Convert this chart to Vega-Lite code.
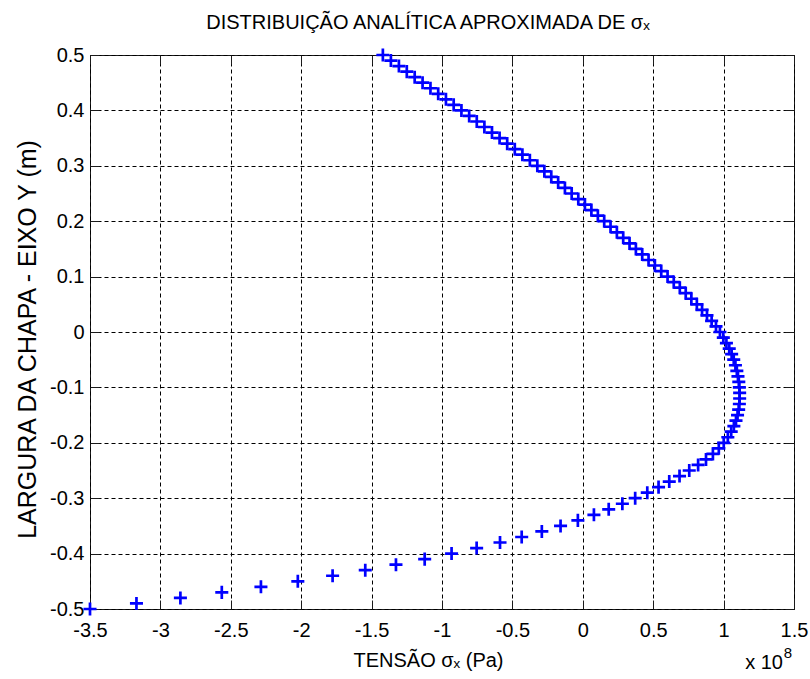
{
  "$schema": "https://vega.github.io/schema/vega-lite/v6.json",
  "width": 704,
  "height": 554,
  "autosize": "none",
  "padding": {"left": 90, "top": 55, "right": 16, "bottom": 70},
  "background": "white",
  "title": {
    "text": "DISTRIBUIÇÃO ANALÍTICA APROXIMADA DE σₓ",
    "font": "Liberation Sans",
    "fontSize": 20,
    "fontWeight": "normal",
    "color": "#000",
    "offset": 10,
    "dx": -14
  },
  "config": {
    "font": "Liberation Sans",
    "view": {"stroke": "#1a1a1a", "strokeWidth": 1},
    "axis": {
      "labelFont": "Liberation Sans",
      "labelFontSize": 20,
      "labelColor": "#000",
      "titleFont": "Liberation Sans",
      "titleFontSize": 20,
      "titleFontWeight": "normal",
      "titleColor": "#000",
      "grid": true,
      "gridColor": "#000",
      "gridOpacity": 1,
      "gridDash": [4, 3],
      "gridWidth": 1,
      "domain": false,
      "tickColor": "#1a1a1a",
      "tickSize": -9,
      "tickWidth": 1,
      "labelOverlap": false,
      "labelFlush": false
    }
  },
  "data": {
    "values": [
      {"y": 0.50, "sx": -1.420e8}, {"y": 0.49, "sx": -1.363e8}, {"y": 0.48, "sx": -1.306e8},
      {"y": 0.47, "sx": -1.250e8}, {"y": 0.46, "sx": -1.194e8}, {"y": 0.45, "sx": -1.138e8},
      {"y": 0.44, "sx": -1.082e8}, {"y": 0.43, "sx": -1.027e8}, {"y": 0.42, "sx": -0.972e8},
      {"y": 0.41, "sx": -0.917e8}, {"y": 0.40, "sx": -0.862e8}, {"y": 0.39, "sx": -0.807e8},
      {"y": 0.38, "sx": -0.753e8}, {"y": 0.37, "sx": -0.699e8}, {"y": 0.36, "sx": -0.645e8},
      {"y": 0.35, "sx": -0.591e8}, {"y": 0.34, "sx": -0.537e8}, {"y": 0.33, "sx": -0.483e8},
      {"y": 0.32, "sx": -0.429e8}, {"y": 0.31, "sx": -0.376e8}, {"y": 0.30, "sx": -0.323e8},
      {"y": 0.29, "sx": -0.273e8}, {"y": 0.28, "sx": -0.224e8}, {"y": 0.27, "sx": -0.175e8},
      {"y": 0.26, "sx": -0.127e8}, {"y": 0.25, "sx": -0.079e8}, {"y": 0.24, "sx": -0.032e8},
      {"y": 0.23, "sx": 0.015e8}, {"y": 0.22, "sx": 0.061e8}, {"y": 0.21, "sx": 0.107e8},
      {"y": 0.20, "sx": 0.152e8}, {"y": 0.19, "sx": 0.197e8}, {"y": 0.18, "sx": 0.242e8},
      {"y": 0.17, "sx": 0.287e8}, {"y": 0.16, "sx": 0.332e8}, {"y": 0.15, "sx": 0.377e8},
      {"y": 0.14, "sx": 0.422e8}, {"y": 0.13, "sx": 0.467e8}, {"y": 0.12, "sx": 0.512e8},
      {"y": 0.11, "sx": 0.557e8}, {"y": 0.10, "sx": 0.602e8}, {"y": 0.09, "sx": 0.646e8},
      {"y": 0.08, "sx": 0.689e8}, {"y": 0.07, "sx": 0.731e8}, {"y": 0.06, "sx": 0.771e8},
      {"y": 0.05, "sx": 0.810e8}, {"y": 0.04, "sx": 0.847e8}, {"y": 0.03, "sx": 0.882e8},
      {"y": 0.02, "sx": 0.915e8}, {"y": 0.01, "sx": 0.946e8}, {"y": 0.00, "sx": 0.974e8},
      {"y": -0.01, "sx": 0.998e8}, {"y": -0.02, "sx": 1.020e8}, {"y": -0.03, "sx": 1.040e8},
      {"y": -0.04, "sx": 1.057e8}, {"y": -0.05, "sx": 1.072e8}, {"y": -0.06, "sx": 1.084e8},
      {"y": -0.07, "sx": 1.094e8}, {"y": -0.08, "sx": 1.102e8}, {"y": -0.09, "sx": 1.108e8},
      {"y": -0.10, "sx": 1.112e8}, {"y": -0.11, "sx": 1.114e8}, {"y": -0.12, "sx": 1.114e8},
      {"y": -0.13, "sx": 1.112e8}, {"y": -0.14, "sx": 1.107e8}, {"y": -0.15, "sx": 1.099e8},
      {"y": -0.16, "sx": 1.088e8}, {"y": -0.17, "sx": 1.073e8}, {"y": -0.18, "sx": 1.054e8},
      {"y": -0.19, "sx": 1.030e8}, {"y": -0.20, "sx": 1.001e8}, {"y": -0.21, "sx": 0.966e8},
      {"y": -0.22, "sx": 0.924e8}, {"y": -0.23, "sx": 0.875e8}, {"y": -0.24, "sx": 0.819e8},
      {"y": -0.25, "sx": 0.756e8}, {"y": -0.26, "sx": 0.687e8}, {"y": -0.27, "sx": 0.614e8},
      {"y": -0.28, "sx": 0.538e8}, {"y": -0.29, "sx": 0.458e8}, {"y": -0.30, "sx": 0.372e8},
      {"y": -0.31, "sx": 0.281e8}, {"y": -0.32, "sx": 0.184e8}, {"y": -0.33, "sx": 0.079e8},
      {"y": -0.34, "sx": -0.035e8}, {"y": -0.35, "sx": -0.158e8}, {"y": -0.36, "sx": -0.291e8},
      {"y": -0.37, "sx": -0.434e8}, {"y": -0.38, "sx": -0.588e8}, {"y": -0.39, "sx": -0.754e8},
      {"y": -0.40, "sx": -0.932e8}, {"y": -0.41, "sx": -1.123e8}, {"y": -0.42, "sx": -1.327e8},
      {"y": -0.43, "sx": -1.545e8}, {"y": -0.44, "sx": -1.777e8}, {"y": -0.45, "sx": -2.024e8},
      {"y": -0.46, "sx": -2.286e8}, {"y": -0.47, "sx": -2.564e8}, {"y": -0.48, "sx": -2.858e8},
      {"y": -0.49, "sx": -3.170e8}, {"y": -0.50, "sx": -3.500e8}
    ]
  },
  "resolve": {"axis": {"x": "independent", "y": "independent"}},
  "layer": [
    {
      "mark": {
        "type": "point",
        "shape": "M-1,0L1,0M0,-1L0,1",
        "size": 170,
        "filled": false,
        "stroke": "#0000ff",
        "strokeWidth": 2.7,
        "opacity": 1
      },
      "encoding": {
        "x": {
          "field": "sx",
          "type": "quantitative",
          "scale": {"domain": [-3.5e8, 1.5e8], "nice": false, "zero": false},
          "axis": {
            "orient": "bottom",
            "values": [-3.5e8, -3e8, -2.5e8, -2e8, -1.5e8, -1e8, -0.5e8, 0, 0.5e8, 1e8, 1.5e8],
            "labelExpr": "'' + datum.value / 1e8",
            "labelPadding": 20,
            "title": "TENSÃO σₓ (Pa)",
            "titleX": 338,
            "titleY": 57,
            "titleAlign": "center",
            "titleBaseline": "alphabetic"
          }
        },
        "y": {
          "field": "y",
          "type": "quantitative",
          "scale": {"domain": [-0.5, 0.5], "nice": false, "zero": false},
          "axis": {
            "orient": "left",
            "values": [-0.5, -0.4, -0.3, -0.2, -0.1, 0, 0.1, 0.2, 0.3, 0.4, 0.5],
            "labelExpr": "'' + datum.value",
            "labelPadding": 15,
            "title": "LARGURA DA CHAPA - EIXO Y (m)",
            "titleFontSize": 25,
            "titleAngle": -90,
            "titleX": -55,
            "titleY": 284,
            "titleAlign": "center",
            "titleBaseline": "alphabetic"
          }
        }
      }
    },
    {
      "data": {"values": [{"label": "x 10"}]},
      "mark": {
        "type": "text",
        "font": "Liberation Sans",
        "fontSize": 20,
        "color": "#000",
        "align": "right",
        "baseline": "alphabetic",
        "dx": -11,
        "dy": 60
      },
      "encoding": {
        "text": {"field": "label"},
        "x": {
          "datum": 1.5e8,
          "type": "quantitative",
          "axis": {
            "orient": "top",
            "values": [-3.5e8, -3e8, -2.5e8, -2e8, -1.5e8, -1e8, -0.5e8, 0, 0.5e8, 1e8, 1.5e8],
            "labels": false,
            "grid": false,
            "title": null
          }
        },
        "y": {
          "datum": -0.5,
          "type": "quantitative",
          "axis": {
            "orient": "right",
            "values": [-0.5, -0.4, -0.3, -0.2, -0.1, 0, 0.1, 0.2, 0.3, 0.4, 0.5],
            "labels": false,
            "grid": false,
            "title": null
          }
        }
      }
    },
    {
      "data": {"values": [{"label": "8"}]},
      "mark": {
        "type": "text",
        "font": "Liberation Sans",
        "fontSize": 15,
        "color": "#000",
        "align": "right",
        "baseline": "alphabetic",
        "dx": -2,
        "dy": 49
      },
      "encoding": {
        "text": {"field": "label"},
        "x": {"datum": 1.5e8, "type": "quantitative", "axis": null},
        "y": {"datum": -0.5, "type": "quantitative", "axis": null}
      }
    }
  ]
}
